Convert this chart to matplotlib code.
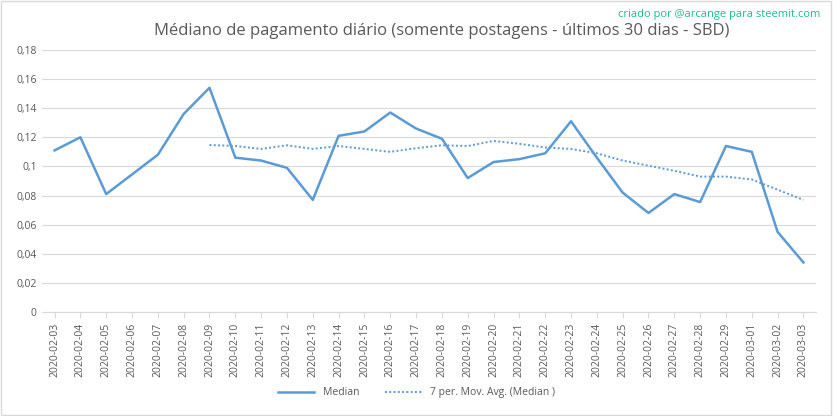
import matplotlib
matplotlib.use("Agg")
import matplotlib.pyplot as plt
import numpy as np

dates = ["2020-02-03","2020-02-04","2020-02-05","2020-02-06","2020-02-07","2020-02-08","2020-02-09",
         "2020-02-10","2020-02-11","2020-02-12","2020-02-13","2020-02-14","2020-02-15","2020-02-16",
         "2020-02-17","2020-02-18","2020-02-19","2020-02-20","2020-02-21","2020-02-22","2020-02-23",
         "2020-02-24","2020-02-25","2020-02-26","2020-02-27","2020-02-28","2020-02-29","2020-03-01",
         "2020-03-02","2020-03-03"]
median = [0.111,0.120,0.081,0.0945,0.108,0.136,0.154,0.106,0.104,0.099,0.077,0.121,0.124,0.137,
          0.126,0.119,0.092,0.103,0.105,0.109,0.131,0.106,0.082,0.068,0.081,0.0755,0.114,0.110,
          0.055,0.034]
mov_avg = [None]*6 + [0.1147,0.114,0.112,0.1145,0.112,0.114,0.112,0.110,0.1125,0.1145,0.114,
          0.1175,0.1155,0.113,0.112,0.109,0.104,0.1005,0.097,0.093,0.093,0.091,0.084,0.077]
yticks = [0,0.02,0.04,0.06,0.08,0.1,0.12,0.14,0.16,0.18]
ylabels = ["0","0,02","0,04","0,06","0,08","0,1","0,12","0,14","0,16","0,18"]

plt.rcParams["font.family"] = "Open Sans"
fig = plt.figure(figsize=(8.33,4.16), dpi=100)
ax = fig.add_axes([0.05,0.25,0.93,0.63])
x = np.arange(len(dates))
color = "#5B9BD5"
ax.plot(x, median, color=color, lw=1.8, label="Median")
ma = np.array([np.nan if v is None else v for v in mov_avg])
ax.plot(x, ma, color=color, lw=1.4, ls=(0,(1,1.2)), label="7 per. Mov. Avg. (Median )")
ax.set_xlim(-0.5, len(dates)-0.5)
ax.set_ylim(0,0.18)
ax.set_yticks(yticks)
ax.set_yticklabels(ylabels, fontsize=7.5, color="#595959")
ax.set_xticks(x)
ax.set_xticklabels(dates, rotation=90, fontsize=7.5, color="#595959")
ax.grid(axis="y", color="#d9d9d9", lw=0.8)
ax.set_axisbelow(True)
for s in ["top","right","left"]:
    ax.spines[s].set_visible(False)
ax.spines["bottom"].set_color("#d9d9d9")
ax.tick_params(length=0)
ax.tick_params(axis="x", length=4, color="#d9d9d9")
fig.text(0.53,0.915,"Médiano de pagamento diário (somente postagens - últimos 30 dias - SBD)",
         ha="center", fontsize=12, color="#595959")
fig.text(0.985,0.96,"criado por @arcange para steemit.com", ha="right", fontsize=8, color="#1ABC9C")
fig.legend(loc="lower center", bbox_to_anchor=(0.5,0.02), ncol=2, frameon=False, fontsize=7.5,
           handlelength=3.5, columnspacing=2.5, labelcolor="#595959")
fig.patches.append(plt.Rectangle((0.001,0.002),0.997,0.995, transform=fig.transFigure,
                                 fill=False, edgecolor="#d9d9d9", lw=1))
fig.savefig("out.png", dpi=100)
